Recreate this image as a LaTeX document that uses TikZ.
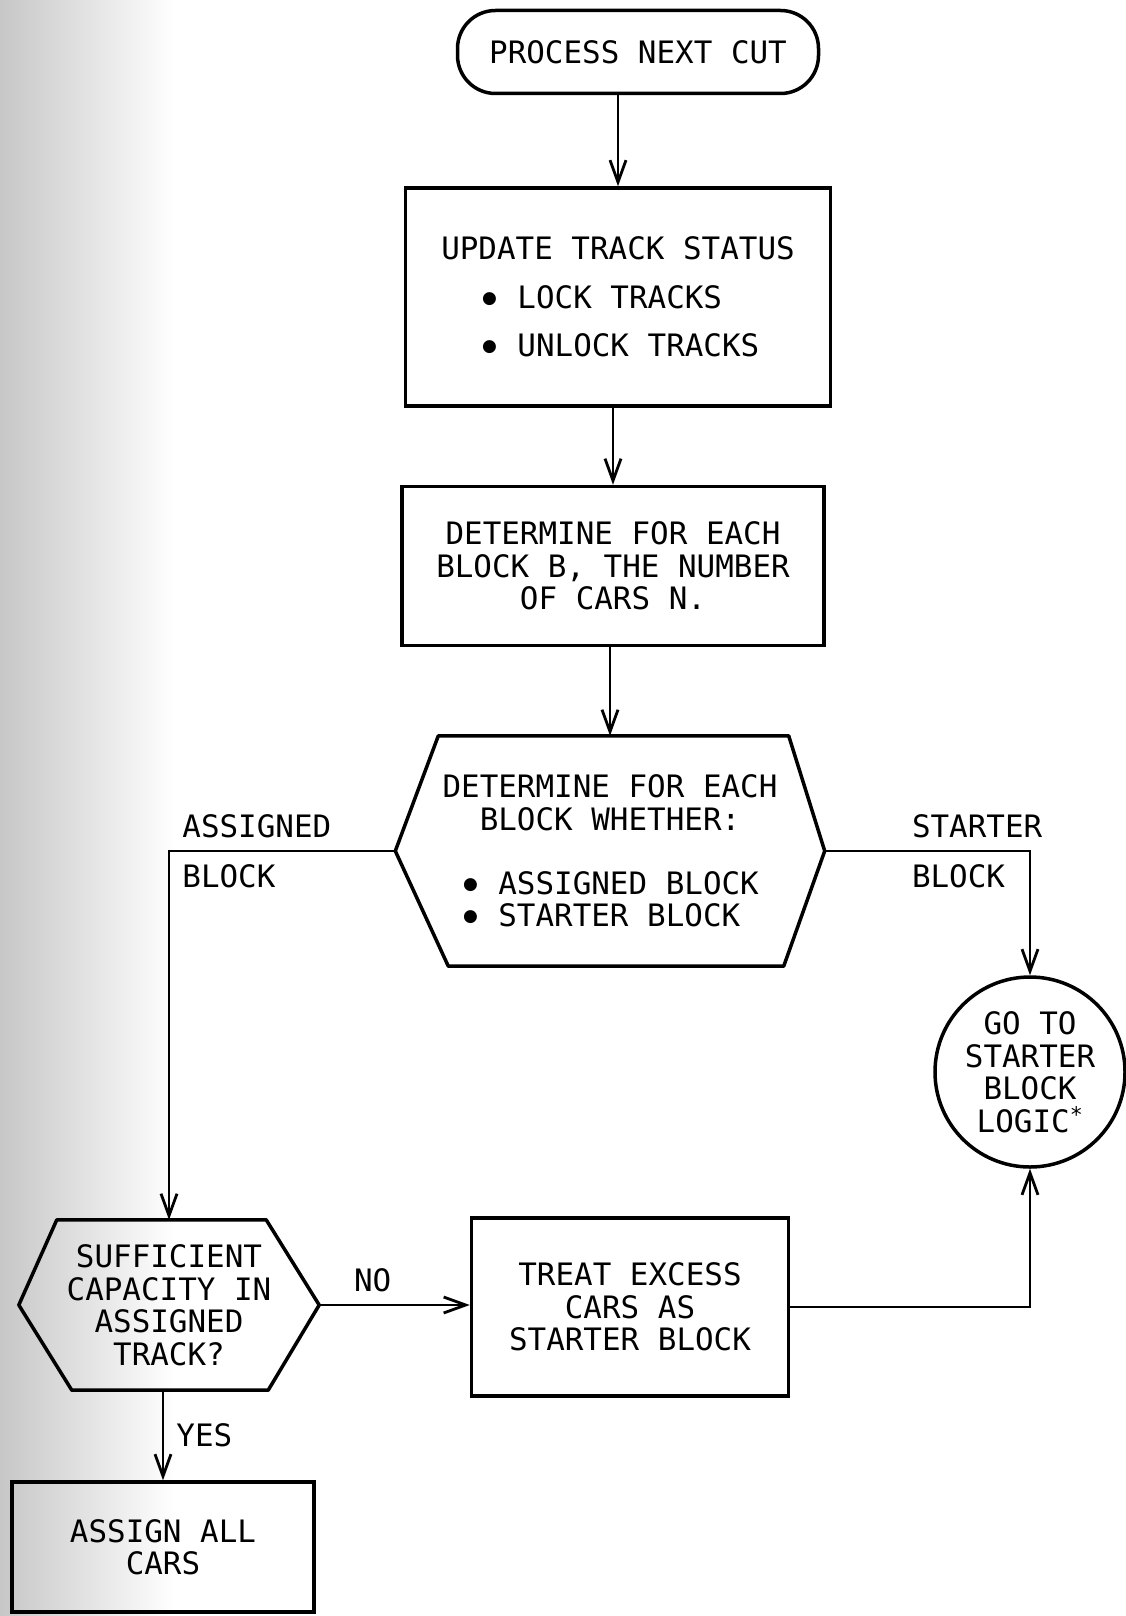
\documentclass[tikz,border=0pt]{standalone}
\usepackage{fontspec}
\newfontfamily\plotfont{DejaVu Sans Mono}
\newfontfamily\symfont{DejaVu Sans}
\newcommand\blt{\makebox[18.6pt]{\raisebox{5pt}{\symfont\fontsize{17pt}{0pt}\selectfont ●}}}
\usetikzlibrary{arrows.meta}
\begin{document}
\begin{tikzpicture}[x=1pt,y=-1pt,
  every node/.style={font=\plotfont\fontsize{30.9pt}{32.5pt}\selectfont},
  box/.style={draw,line width=3.5pt,inner sep=0pt,align=center},
  hexa/.style={inner sep=0pt,align=center},
  edge/.style={line width=3.5pt,line join=round},
  arr/.style={line width=2.8pt,-{Straight Barb[length=22pt,width=16pt]}},
  lbl/.style={inner sep=12pt}]
\useasboundingbox (0,0) rectangle (1126,1616);
\shade[left color=black!22,right color=white] (0,0) rectangle (175,1616);
\node[box,rounded corners=38pt,minimum width=361pt,minimum height=83pt] (term) at (638,52) {PROCESS NEXT CUT};
\node[box,align=left,minimum width=425pt,minimum height=218pt] (upd) at (618,297) {UPDATE TRACK STATUS\\[16pt]\hspace*{39pt}\blt{} LOCK TRACKS\\[16pt]\hspace*{39pt}\blt{} UNLOCK TRACKS};
\node[box,minimum width=422pt,minimum height=159pt] (det) at (613,566) {DETERMINE FOR EACH\\BLOCK B, THE NUMBER\\OF CARS N.};
\node[hexa,minimum width=429pt,minimum height=230pt] (whe) at (610,851) {DETERMINE FOR EACH\\BLOCK WHETHER:\\[31.5pt]\blt{} ASSIGNED BLOCK\\\blt{} STARTER BLOCK\phantom{K}};
\draw[edge] ([xshift=43pt]whe.north west) -- ([xshift=-36pt]whe.north east) -- (whe.east) -- ([xshift=-41pt]whe.south east) -- ([xshift=53pt]whe.south west) -- (whe.west) -- cycle;
\node[box,circle,minimum size=190pt] (goto) at (1030,1072) {GO TO\\STARTER\\BLOCK\\LOGIC\textsuperscript{*}};
\node[hexa,minimum width=300pt,minimum height=170pt] (suf) at (169,1305) {SUFFICIENT\\CAPACITY IN\\ASSIGNED\\TRACK?};
\draw[edge] ([xshift=38pt]suf.north west) -- ([xshift=-53pt]suf.north east) -- (suf.east) -- ([xshift=-51pt]suf.south east) -- ([xshift=53pt]suf.south west) -- (suf.west) -- cycle;
\node[box,minimum width=317pt,minimum height=178pt] (treat) at (630,1307) {TREAT EXCESS\\CARS AS\\STARTER BLOCK};
\node[box,minimum width=302pt,minimum height=130pt] (asg) at (163,1547) {ASSIGN ALL\\CARS};
\draw[arr] (upd.north |- term.south) -- (upd.north);
\draw[arr] (det.north |- upd.south) -- (det.north);
\draw[arr] (whe.north |- det.south) -- (whe.north);
\draw[arr] (whe.west) -| node[lbl,pos=0.5,anchor=south west] (asgA) {ASSIGNED} node[lbl,pos=0.5,anchor=north west] (asgB) {BLOCK} (suf.north);
\draw[arr] (whe.east) -| node[lbl,pos=0.18,anchor=south west] (strA) {STARTER} node[lbl,pos=0.18,anchor=north west] (strB) {BLOCK} (goto.north);
\draw[arr] (suf.east) -- node[lbl,pos=0.355,anchor=south] (no) {NO} (suf.east -| treat.west);
\draw[arr] (asg.north |- suf.south) -- node[lbl,right] (yes) {YES} (asg.north);
\draw[arr] (treat.east) -| (goto.south);
\end{tikzpicture}
\end{document}
